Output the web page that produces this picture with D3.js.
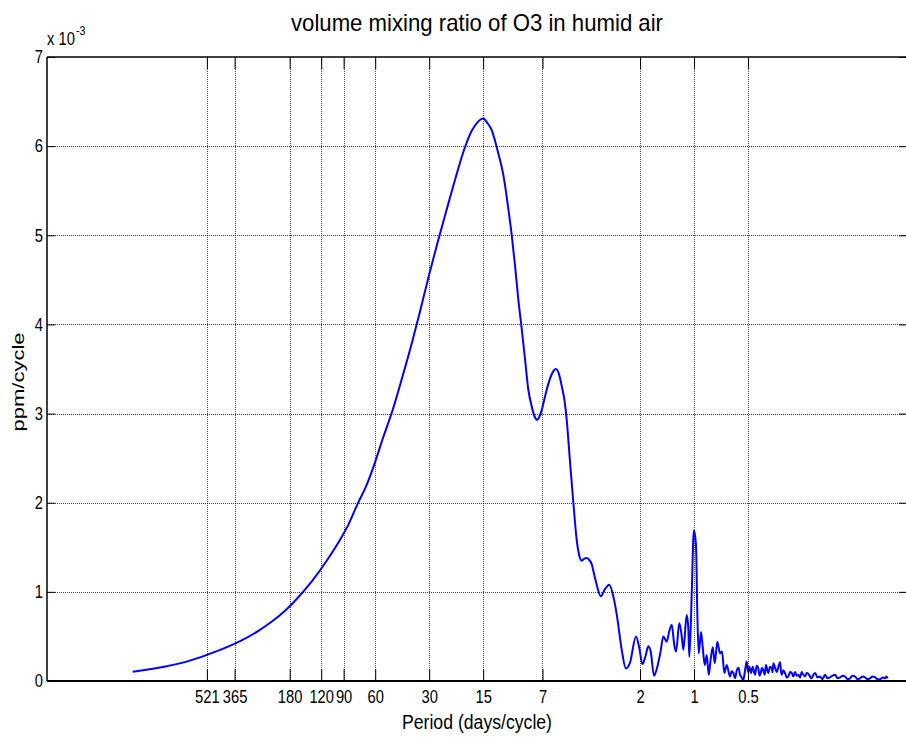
<!DOCTYPE html>
<html>
<head>
<meta charset="utf-8">
<script src="https://cdn.jsdelivr.net/npm/d3@7"></script>
<style>
  html, body { margin: 0; padding: 0; background: #fff; }
  svg { display: block; }
  text { font-family: "Liberation Sans", Arial, Helvetica, sans-serif; fill: #000; }
</style>
</head>
<body>
<svg id="chart" width="906" height="738"></svg>
<script>
// ---------------- data ----------------
const titleText = "volume mixing ratio of O3 in humid air";
const xLabelText = "Period (days/cycle)";
const yLabelText = "ppm/cycle";

// period (days/cycle) of each spectral point
const periods = [
  1351, 675.5, 450.3, 337.8, 270.2, 225.2, 193.0, 168.9, 135.1, 112.6,
  96.5, 84.4, 75.1, 67.6, 61.4, 54.0, 48.3, 42.2, 37.5, 33.8,
  30.0, 27.0, 24.1, 21.4, 19.3, 17.4, 16.1, 14.97, 14.21, 13.44,
  12.88, 12.35, 11.58, 10.86, 10.39, 9.96, 9.55, 9.14, 8.76, 8.40,
  8.04, 7.76, 7.48, 7.27, 7.07, 6.78, 6.50, 6.19, 5.89, 5.66,
  5.47, 5.28, 5.13, 4.92, 4.71, 4.51, 4.38, 4.23, 4.11, 3.97,
  3.85, 3.72, 3.61, 3.49, 3.31, 3.14, 2.97, 2.82, 2.70, 2.53,
  2.40, 2.28, 2.106, 2.019, 1.942, 1.864, 1.798, 1.744, 1.671, 1.602,
  1.537, 1.483, 1.420, 1.378, 1.331, 1.288, 1.260, 1.208, 1.171, 1.147,
  1.098, 1.076, 1.062, 1.030, 1.009, 1.000, 0.9747, 0.9585, 0.9414, 0.9141,
  0.8944, 0.8716, 0.8494, 0.8279, 0.8069, 0.7864, 0.7665, 0.7413, 0.7161, 0.6981,
  0.6776, 0.6571, 0.6299, 0.6166, 0.6037, 0.5905, 0.5777, 0.5655, 0.5538, 0.5422,
  0.5309, 0.5194, 0.5083, 0.4998, 0.4916, 0.4810, 0.4707, 0.4636, 0.4567, 0.4472,
  0.4379, 0.4312, 0.4246, 0.4176, 0.4108, 0.4037, 0.3967, 0.3909, 0.3852, 0.3768,
  0.3686, 0.3648, 0.3611, 0.3533, 0.3457, 0.3385, 0.3314, 0.3278, 0.3243, 0.3175,
  0.3109, 0.3043, 0.2979, 0.2914, 0.2851, 0.2791, 0.2733, 0.2676, 0.2620, 0.2563,
  0.2508, 0.2455, 0.2404, 0.2353, 0.2304, 0.2255, 0.2207, 0.2160, 0.2114, 0.2047,
  0.1983, 0.1920, 0.1860, 0.1801, 0.1744, 0.1688, 0.1635, 0.1583, 0.1533, 0.1484,
  0.1438, 0.1392, 0.1349, 0.1306, 0.1265, 0.1225, 0.1186, 0.1148, 0.1112, 0.1077,
  0.1043, 0.1010, 0.0978, 0.0947, 0.0917, 0.0888, 0.0860, 0.0846, 0.0833
];
// amplitude (x 10^-3 ppm/cycle)
const amplitudes = [
  0.104, 0.217, 0.34, 0.45, 0.56, 0.67, 0.78, 0.895, 1.12, 1.34,
  1.55, 1.76, 1.99, 2.18, 2.40, 2.74, 3.02, 3.42, 3.79, 4.14,
  4.56, 4.91, 5.27, 5.64, 5.94, 6.17, 6.27, 6.31, 6.26, 6.18,
  6.06, 5.92, 5.68, 5.30, 5.00, 4.66, 4.28, 3.95, 3.61, 3.27,
  3.08, 2.97, 2.93, 2.97, 3.04, 3.19, 3.33, 3.45, 3.50, 3.44,
  3.31, 3.15, 2.93, 2.47, 2.00, 1.58, 1.42, 1.35, 1.37, 1.38,
  1.36, 1.31, 1.20, 1.08, 0.95, 1.03, 1.08, 0.95, 0.75, 0.35,
  0.14, 0.20, 0.50, 0.37, 0.19, 0.28, 0.39, 0.33, 0.06, 0.16,
  0.33, 0.50, 0.44, 0.55, 0.63, 0.40, 0.33, 0.65, 0.50, 0.35,
  0.74, 0.59, 0.27, 0.98, 1.60, 1.69, 1.51, 0.76, 0.31, 0.55,
  0.38, 0.18, 0.29, 0.07, 0.25, 0.38, 0.20, 0.44, 0.31, 0.33,
  0.09, 0.18, 0.05, 0.11, 0.09, 0.03, 0.12, 0.15, 0.07, 0.04,
  0.01, 0.12, 0.22, 0.10, 0.16, 0.09, 0.16, 0.11, 0.07, 0.17,
  0.14, 0.06, 0.09, 0.15, 0.12, 0.07, 0.18, 0.13, 0.09, 0.16,
  0.14, 0.10, 0.20, 0.15, 0.10, 0.16, 0.21, 0.12, 0.07, 0.12,
  0.09, 0.04, 0.05, 0.10, 0.09, 0.05, 0.10, 0.06, 0.07, 0.04,
  0.10, 0.07, 0.05, 0.09, 0.08, 0.05, 0.03, 0.07, 0.09, 0.04,
  0.05, 0.02, 0.07, 0.03, 0.04, 0.06, 0.07, 0.03, 0.04, 0.06,
  0.05, 0.02, 0.03, 0.06, 0.05, 0.02, 0.03, 0.05, 0.04, 0.02,
  0.03, 0.05, 0.04, 0.02, 0.02, 0.04, 0.03, 0.05, 0.03
];

const xTickValues = [521, 365, 180, 120, 90, 60, 30, 15, 7, 2, 1, 0.5];
const xTickLabels = ["521", "365", "180", "120", "90", "60", "30", "15", "7", "2", "1", "0.5"];
const yTickValues = [0, 1, 2, 3, 4, 5, 6, 7];
const xDomain = [4060, 0.0649];
const yDomain = [0, 7];

// ---------------- layout ----------------
const L = 47, R = 907, T = 57, B = 681;
const svg = d3.select("#chart");

const x = d3.scaleLog().domain(xDomain).range([L, R]);
const y = d3.scaleLinear().domain(yDomain).range([B, T]);

const gridColor = "#000";

// grid
const grid = svg.append("g");
grid.selectAll("line.vx").data(xTickValues).enter().append("line")
  .attr("x1", d => Math.round(x(d)) + 0.5).attr("x2", d => Math.round(x(d)) + 0.5)
  .attr("y1", T).attr("y2", B)
  .attr("stroke", gridColor).attr("stroke-width", 1)
  .attr("stroke-dasharray", "1,1").attr("opacity", 0.7);
grid.selectAll("line.hy").data(yTickValues.filter(d => d > 0 && d < 7)).enter().append("line")
  .attr("y1", d => Math.round(y(d)) + 0.5).attr("y2", d => Math.round(y(d)) + 0.5)
  .attr("x1", L).attr("x2", R)
  .attr("stroke", gridColor).attr("stroke-width", 1)
  .attr("stroke-dasharray", "1,1").attr("opacity", 0.75);

// curve
const pts = periods.map((p, i) => [p, amplitudes[i]]);
svg.append("path")
  .datum(pts)
  .attr("fill", "none")
  .attr("stroke", "#0000ff")
  .attr("stroke-width", 2)
  .attr("stroke-linejoin", "round")
  .attr("d", d3.line().curve(d3.curveMonotoneX).x(d => x(d[0])).y(d => y(d[1])));

// axes
const fmtX = d => xTickLabels[xTickValues.indexOf(d)];
const xAxis = svg.append("g").attr("transform", `translate(0,${B})`)
  .call(d3.axisBottom(x).tickValues(xTickValues).tickFormat(fmtX).tickSize(-12).tickPadding(9));
xAxis.select(".domain").remove();
xAxis.selectAll(".tick line").attr("stroke", "#000").attr("stroke-width", 1);
xAxis.selectAll(".tick text")
  .attr("font-size", 18).attr("font-family", "'Liberation Sans', Arial, sans-serif")
  .attr("transform", "scale(0.82,1)");

const xAxisTop = svg.append("g").attr("transform", `translate(0,${T})`)
  .call(d3.axisTop(x).tickValues(xTickValues).tickFormat("").tickSize(-12));
xAxisTop.select(".domain").remove();
xAxisTop.selectAll(".tick line").attr("stroke", "#000");

const yAxis = svg.append("g").attr("transform", `translate(${L},0)`)
  .call(d3.axisLeft(y).tickValues(yTickValues).tickFormat(d3.format("d")).tickSize(-8).tickPadding(5));
yAxis.select(".domain").remove();
yAxis.selectAll(".tick line").attr("stroke", "#000");
yAxis.selectAll(".tick text")
  .attr("font-size", 18).attr("font-family", "'Liberation Sans', Arial, sans-serif")
  .attr("transform", "scale(0.82,1)");

const yAxisR = svg.append("g").attr("transform", `translate(${R},0)`)
  .call(d3.axisRight(y).tickValues(yTickValues).tickFormat("").tickSize(-8));
yAxisR.select(".domain").remove();
yAxisR.selectAll(".tick line").attr("stroke", "#000");

// frame
svg.append("line").attr("x1", L).attr("x2", R).attr("y1", B).attr("y2", B)
  .attr("stroke", "#000").attr("stroke-width", 2);
svg.append("line").attr("x1", L).attr("x2", R).attr("y1", T).attr("y2", T)
  .attr("stroke", "#000").attr("stroke-width", 1.5);
svg.append("line").attr("x1", L).attr("x2", L).attr("y1", T).attr("y2", B)
  .attr("stroke", "#000").attr("stroke-width", 1.5);
svg.append("line").attr("x1", R).attr("x2", R).attr("y1", T).attr("y2", B)
  .attr("stroke", "#000").attr("stroke-width", 1.5);

// exponent label
const expo = svg.append("text").attr("transform", `translate(${L},45) scale(0.82,1)`)
  .attr("font-size", 18);
expo.append("tspan").text("x 10");
svg.append("text").attr("transform", `translate(${L + 29},35) scale(0.82,1)`)
  .attr("font-size", 13).text("-3");

// title
svg.append("text").attr("x", 477).attr("y", 31)
  .attr("text-anchor", "middle").attr("font-size", 24)
  .attr("textLength", 372).attr("lengthAdjust", "spacingAndGlyphs")
  .text(titleText);

// x label
svg.append("text").attr("x", 477).attr("y", 729)
  .attr("text-anchor", "middle").attr("font-size", 20)
  .attr("textLength", 150).attr("lengthAdjust", "spacingAndGlyphs")
  .text(xLabelText);

// y label
svg.append("text").attr("transform", "translate(24,382) rotate(-90)")
  .attr("text-anchor", "middle").attr("font-size", 17)
  .attr("textLength", 99).attr("lengthAdjust", "spacingAndGlyphs")
  .text(yLabelText);
</script>
</body>
</html>
